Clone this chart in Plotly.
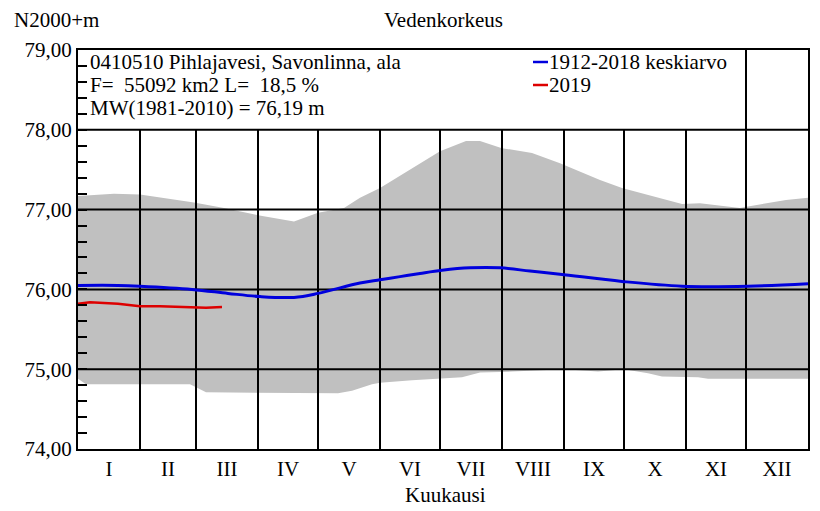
import plotly.graph_objects as go

# Day-of-year positions (0..365)
month_bounds = [0, 31, 59, 90, 120, 151, 181, 212, 243, 273, 304, 334, 365]
month_labels = ["I", "II", "III", "IV", "V", "VI", "VII", "VIII", "IX", "X", "XI", "XII"]

# Upper envelope (max)
max_days = [0, 18, 31, 58, 73, 90, 108, 120, 133, 141, 151, 166, 181, 194, 201, 212, 227, 241, 261, 272, 302, 311, 331, 335, 354, 365]
max_vals = [77.17, 77.20, 77.19, 77.09, 77.02, 76.93, 76.85, 76.96, 77.02, 77.15, 77.27, 77.50, 77.73, 77.86, 77.86, 77.77, 77.71, 77.58, 77.37, 77.27, 77.07, 77.08, 77.02, 77.04, 77.12, 77.15]

# Lower envelope (min)
min_days = [0, 4, 56, 64, 130, 137, 147, 151, 167, 181, 192, 201, 217, 243, 260, 273, 285, 292, 310, 315, 365]
min_vals = [74.88, 74.81, 74.81, 74.71, 74.70, 74.73, 74.81, 74.83, 74.86, 74.88, 74.90, 74.96, 74.97, 75.00, 74.97, 75.00, 74.95, 74.91, 74.90, 74.88, 74.88]

# 1912-2018 mean
mean_days = [0, 20, 31, 57, 75, 91, 108, 120, 141, 151, 161, 171, 182, 196, 211, 226, 241, 272, 302, 335, 365]
mean_vals = [76.05, 76.05, 76.04, 76.00, 75.95, 75.91, 75.90, 75.95, 76.08, 76.12, 76.16, 76.20, 76.24, 76.27, 76.27, 76.23, 76.19, 76.10, 76.04, 76.04, 76.07]

# 2019
y2019_days = [0, 6, 20, 31, 41, 57, 64, 72]
y2019_vals = [75.82, 75.84, 75.82, 75.79, 75.79, 75.78, 75.77, 75.78]

FONT = "Liberation Serif, Times New Roman, serif"
FS = 21

fig = go.Figure()

# envelope fill
fig.add_trace(go.Scatter(x=max_days, y=max_vals, mode="lines", line=dict(width=0, color="#C0C0C0"),
                         showlegend=False, hoverinfo="skip"))
fig.add_trace(go.Scatter(x=min_days, y=min_vals, mode="lines", line=dict(width=0, color="#C0C0C0"),
                         fill="tonexty", fillcolor="#C0C0C0", showlegend=False, hoverinfo="skip"))

# grid lines as traces (drawn over fill, under data lines)
gx, gy = [], []
for b in month_bounds[1:-1]:
    gx += [b, b, None]
    gy += [74, 78, None]
for v in [75, 76, 77, 78]:
    gx += [0, 365, None]
    gy += [v, v, None]
# legend box right border
gx += [month_bounds[11], month_bounds[11], None]
gy += [78, 79, None]
fig.add_trace(go.Scatter(x=gx, y=gy, mode="lines", line=dict(color="black", width=2),
                         showlegend=False, hoverinfo="skip"))

fig.add_trace(go.Scatter(x=mean_days, y=mean_vals, mode="lines", line=dict(color="#0000DD", width=3, shape="spline"),
                         name="1912-2018 keskiarvo", showlegend=False))
fig.add_trace(go.Scatter(x=y2019_days, y=y2019_vals, mode="lines", line=dict(color="#DD0000", width=2.5),
                         name="2019", showlegend=False))

mid = [(month_bounds[i] + month_bounds[i + 1]) / 2 for i in range(12)]

fig.update_xaxes(range=[0, 365], tickmode="array", tickvals=mid, ticktext=month_labels, showgrid=False, zeroline=False,
                 showline=True, linecolor="black", linewidth=2, mirror=True, ticks="", automargin=False,
                 tickfont=dict(family=FONT, size=FS, color="black"))
fig.update_yaxes(range=[74, 79], tickmode="linear", tick0=74, dtick=1, tickformat=".2f",
                 showgrid=False, zeroline=False, automargin=False,
                 showline=True, linecolor="black", linewidth=2, mirror=True,
                 ticks="inside", ticklen=9, tickwidth=2, tickcolor="black",
                 minor=dict(ticks="inside", dtick=0.2, tick0=74, ticklen=9, tickwidth=2, tickcolor="black"),
                 tickfont=dict(family=FONT, size=FS, color="black"))

# page body has an 8px default margin; compensate so the plot lands where the reference has it
OFF = 8
W, H = 820 - OFF, 511 - OFF
PL, PR, PT, PB = 78, 808, 50, 449   # plot area in reference pixels
L, R, T, B = PL - OFF, 820 - PR, PT - OFF, H - (PB - OFF)
pw, ph = PR - PL, PB - PT
def px(x): return (x - PL) / pw
def py(y): return (PB - y) / ph

ann = []
def text(x, y, s, anchor="left"):
    ann.append(dict(x=px(x), y=py(y), xref="paper", yref="paper", text=s, showarrow=False,
                    xanchor=anchor, yanchor="middle", font=dict(family=FONT, size=FS, color="black")))

text(88, 62, "0410510 Pihlajavesi, Savonlinna, ala")
text(88, 85, "F=\u00a0\u00a055092 km2 L=\u00a0\u00a018,5 %")
text(88, 108, "MW(1981-2010) = 76,19 m")
text(547, 62, "1912-2018 keskiarvo")
text(547, 85, "2019")
text(443, 20, "Vedenkorkeus", anchor="center")
text(12, 20, "N2000+m")
text(445, 495, "Kuukausi", anchor="center")

shapes = [
    dict(type="line", xref="paper", yref="paper", x0=px(533), x1=px(548), y0=py(62), y1=py(62),
         line=dict(color="#0000DD", width=2.5)),
    dict(type="line", xref="paper", yref="paper", x0=px(533), x1=px(548), y0=py(85), y1=py(85),
         line=dict(color="#DD0000", width=2.5)),
]

fig.update_layout(width=W, height=H, margin=dict(l=L, r=R, t=T, b=B, autoexpand=False),
                  plot_bgcolor="white", paper_bgcolor="white", separators=",.",
                  annotations=ann, shapes=shapes, showlegend=False,
                  font=dict(family=FONT, size=FS, color="black"))

fig.write_html("out.html")
